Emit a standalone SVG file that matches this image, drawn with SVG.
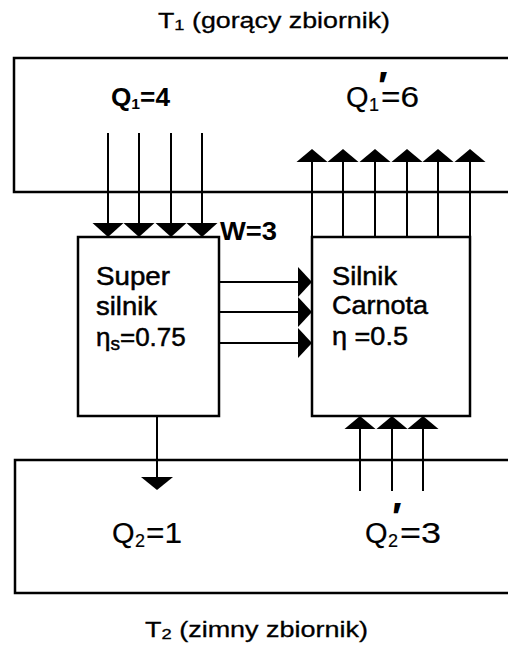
<svg xmlns="http://www.w3.org/2000/svg" width="508" height="648" viewBox="0 0 508 648">
<style>
.ln{stroke:#000;stroke-width:2;fill:none}
.box{stroke:#000;stroke-width:2.5;fill:#fff}
.res{stroke:#000;stroke-width:2.5;fill:none}
.hd{fill:#000;stroke:none}
text{font-family:"Liberation Sans",Arial,sans-serif;fill:#000}
.t{font-size:22px;stroke:#000;stroke-width:0.3}
.q{font-size:29px;stroke:#000;stroke-width:0.2}
.b{font-size:25px;font-weight:bold}
.e{font-size:26px;stroke:#000;stroke-width:0.5}
.sub{font-size:15px}
.qs{font-size:18px;stroke:#000;stroke-width:0.2}
.pr{font-size:40px;font-weight:bold}
</style>
<rect width="508" height="648" fill="#fff"/>
<g id="hot-reservoir">
<path class="res" d="M510 58H14V192H510"/>
<text class="t" x="158" y="28" textLength="232" lengthAdjust="spacingAndGlyphs">T<tspan class="sub" dy="2">1</tspan><tspan dy="-2"> (gorący zbiornik)</tspan></text>
<text class="b" x="111" y="106" textLength="59" lengthAdjust="spacingAndGlyphs">Q<tspan font-size="15" dy="3">1</tspan><tspan dy="-3">=4</tspan></text>
<text class="q" x="346" y="107">Q</text>
<text class="qs" x="369" y="111">1</text>
<text class="pr" x="378" y="100">′</text>
<text class="q" x="381" y="107" textLength="38" lengthAdjust="spacingAndGlyphs">=6</text>
</g>
<g id="cold-reservoir">
<path class="res" d="M510 460H15V593H510"/>
<text class="q" x="112" y="543">Q</text>
<text class="qs" x="135" y="547">2</text>
<text class="q" x="146" y="543" textLength="36" lengthAdjust="spacingAndGlyphs">=1</text>
<text class="q" x="365" y="543">Q</text>
<text class="qs" x="388" y="547">2</text>
<text class="pr" x="392" y="531">′</text>
<text class="q" x="400" y="543" textLength="41" lengthAdjust="spacingAndGlyphs">=3</text>
<text class="t" x="145" y="637" textLength="223" lengthAdjust="spacingAndGlyphs">T<tspan class="sub" dy="2">2</tspan><tspan dy="-2"> (zimny zbiornik)</tspan></text>
</g>
<g id="super-engine">
<rect class="box" x="78" y="237" width="141" height="179"/>
<text class="e" x="96" y="285" textLength="74" lengthAdjust="spacingAndGlyphs">Super</text>
<text class="e" x="96" y="315" textLength="61" lengthAdjust="spacingAndGlyphs">silnik</text>
<text class="e" x="96" y="346">η<tspan font-size="19" dy="4">s</tspan><tspan dy="-4">=0.75</tspan></text>
</g>
<g id="carnot-engine">
<rect class="box" x="312" y="237" width="158" height="179"/>
<text class="e" x="332" y="285" textLength="65" lengthAdjust="spacingAndGlyphs">Silnik</text>
<text class="e" x="332" y="314" textLength="96" lengthAdjust="spacingAndGlyphs">Carnota</text>
<text class="e" x="332" y="345" textLength="76" lengthAdjust="spacingAndGlyphs">η =0.5</text>
</g>
<g id="connectors">
<path class="ln" d="M108 133V230M139 133V230M171 133V230M202 133V230"/>
<polygon class="hd" points="92.5,223 123.5,223 108,237"/>
<polygon class="hd" points="123.5,223 154.5,223 139,237"/>
<polygon class="hd" points="155.5,223 186.5,223 171,237"/>
<polygon class="hd" points="186.5,223 217.5,223 202,237"/>
<text class="b" x="220" y="240" textLength="57" lengthAdjust="spacingAndGlyphs">W=3</text>
<path class="ln" d="M312 237V155M343 237V155M375 237V155M407 237V155M438 237V155M470 237V155"/>
<polygon class="hd" points="296.5,162 327.5,162 312,149"/>
<polygon class="hd" points="327.5,162 358.5,162 343,149"/>
<polygon class="hd" points="359.5,162 390.5,162 375,149"/>
<polygon class="hd" points="391.5,162 422.5,162 407,149"/>
<polygon class="hd" points="422.5,162 453.5,162 438,149"/>
<polygon class="hd" points="454.5,162 485.5,162 470,149"/>
<path class="ln" d="M219 282H305M219 312H305M219 343H305"/>
<polygon class="hd" points="298,267 298,297 312,282"/>
<polygon class="hd" points="298,297 298,327 312,312"/>
<polygon class="hd" points="298,328 298,358 312,343"/>
<path class="ln" d="M157 416V482"/>
<polygon class="hd" points="141,477 173,477 157,490"/>
<path class="ln" d="M360 491V425M392 491V425M423 491V425"/>
<polygon class="hd" points="344.5,429 375.5,429 360,416"/>
<polygon class="hd" points="376.5,429 407.5,429 392,416"/>
<polygon class="hd" points="407.5,429 438.5,429 423,416"/>
</g>
</svg>
